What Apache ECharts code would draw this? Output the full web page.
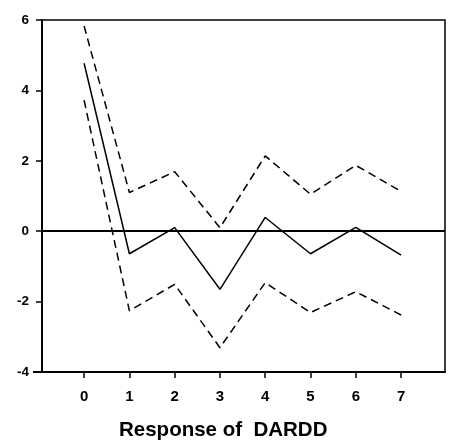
<!DOCTYPE html>
<html>
<head>
<meta charset="utf-8">
<script src="https://cdn.jsdelivr.net/npm/echarts@6/dist/echarts.min.js"></script>
<style>
  html, body { margin: 0; padding: 0; background: #fff; }
  #chart { width: 449px; height: 442px; }
</style>
</head>
<body>
<div id="chart"></div>
<script>
// Impulse response with upper/lower confidence bands
const periods = [0, 1, 2, 3, 4, 5, 6, 7];
const response = [4.77, -0.64, 0.10, -1.65, 0.39, -0.64, 0.11, -0.68];
const upperBand = [5.83, 1.10, 1.69, 0.10, 2.14, 1.05, 1.87, 1.13];
const lowerBand = [3.72, -2.26, -1.51, -3.31, -1.46, -2.31, -1.72, -2.38];
const yTicks = [-4, -2, 0, 2, 4, 6];
const xTitle = 'Response of  DARDD';

const pairs = arr => periods.map((p, i) => [p, arr[i]]);
const font = '"Liberation Sans", Arial, sans-serif';

const chart = echarts.init(document.getElementById('chart'), null, { renderer: 'canvas' });
chart.setOption({
  animation: false,
  backgroundColor: '#fff',
  title: {
    text: xTitle,
    left: 119,
    top: 420,
    padding: 0,
    textStyle: { fontFamily: font, fontWeight: 'bold', fontSize: 20.5, color: '#000' }
  },
  grid: {
    left: 42, right: 4, top: 20, bottom: 70,
    outerBoundsMode: 'none',
    containLabel: false,
    show: true, borderColor: '#000', borderWidth: 1.5, backgroundColor: 'transparent'
  },
  xAxis: {
    type: 'value',
    min: -0.93,
    max: 7.97,
    axisLine: { show: true, onZero: false, lineStyle: { color: '#000', width: 2 } },
    axisTick: { show: true, inside: false, length: 6, customValues: periods, lineStyle: { color: '#000', width: 1.5 } },
    axisLabel: { customValues: periods, margin: 17, fontFamily: font, fontWeight: 'bold', fontSize: 15, color: '#000' },
    splitLine: { show: false }
  },
  yAxis: {
    type: 'value',
    min: yTicks[0],
    max: yTicks[yTicks.length - 1],
    interval: 2,
    axisLine: { show: true, onZero: false, lineStyle: { color: '#000', width: 2 } },
    axisTick: { show: true, inside: false, length: 6, lineStyle: { color: '#000', width: 1.5 } },
    axisLabel: { margin: 13, fontFamily: font, fontWeight: 'bold', fontSize: 13.5, color: '#000' },
    splitLine: { show: false }
  },
  graphic: [{
    // bottom axis line runs slightly past the left axis
    type: 'line',
    shape: { x1: 33, y1: 372, x2: 42, y2: 372 },
    style: { stroke: '#000', lineWidth: 2 }
  }],
  series: [
    {
      type: 'line',
      data: pairs(response),
      symbol: 'none',
      lineStyle: { color: '#000', width: 1.5, type: 'solid' },
      markLine: {
        silent: true,
        symbol: 'none',
        label: { show: false },
        lineStyle: { color: '#000', width: 2, type: 'solid' },
        data: [{ yAxis: 0 }]
      }
    },
    {
      type: 'line',
      data: pairs(upperBand),
      symbol: 'none',
      lineStyle: { color: '#000', width: 1.5, type: [8, 5] }
    },
    {
      type: 'line',
      data: pairs(lowerBand),
      symbol: 'none',
      lineStyle: { color: '#000', width: 1.5, type: [8, 5] }
    }
  ]
});
</script>
</body>
</html>
